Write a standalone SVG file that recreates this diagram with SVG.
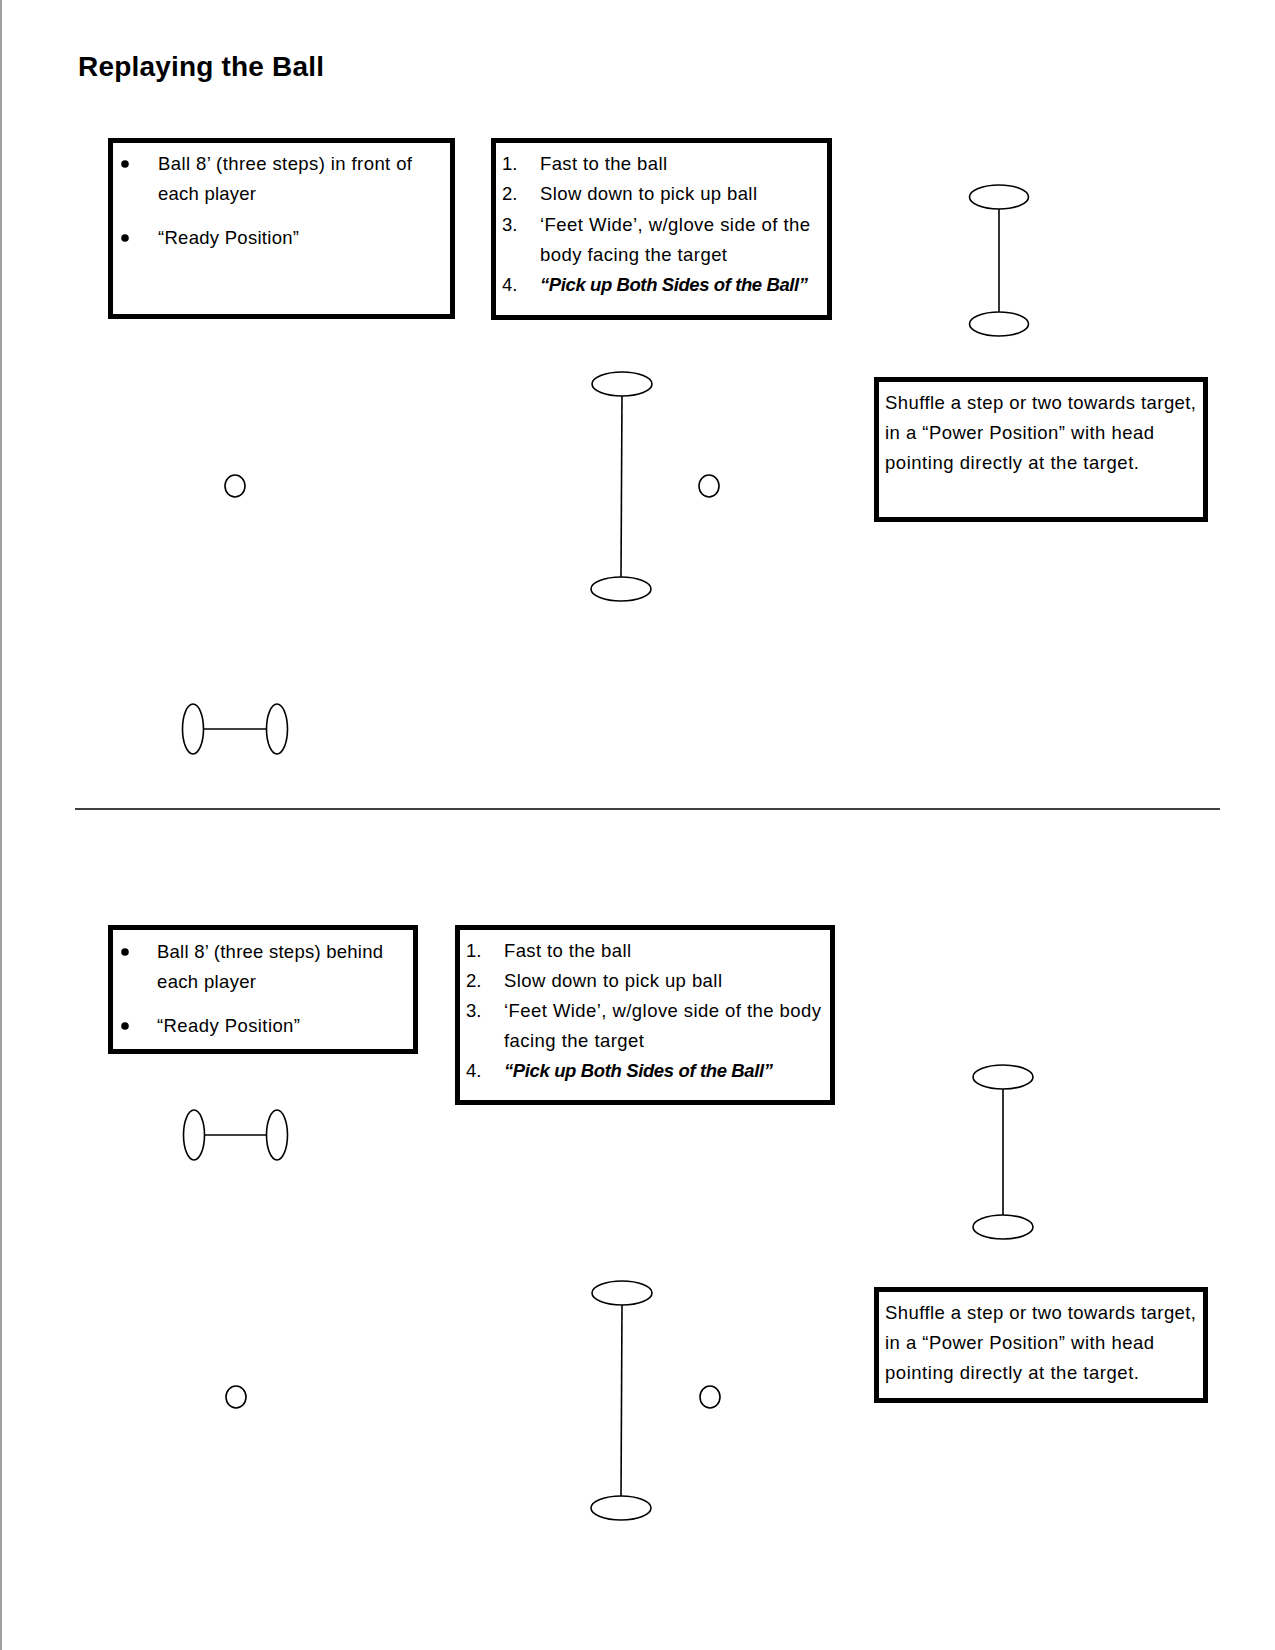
<svg xmlns="http://www.w3.org/2000/svg" width="1275" height="1650" viewBox="0 0 1275 1650">
<style>
  .box{fill:#fff;stroke:#000;stroke-width:5}
  .t{font-family:"Liberation Sans",Arial,sans-serif;font-size:18.5px;fill:#000}
  .bi{font-weight:bold;font-style:italic}
  .title{font-family:"Liberation Sans",Arial,sans-serif;font-size:28px;font-weight:bold;fill:#000}
  .sh{fill:#fff;stroke:#000;stroke-width:1.6}
  .ln{stroke:#000;stroke-width:1.6;fill:none}
</style>
<rect x="0" y="0" width="1275" height="1650" fill="#fff"/>
<line x1="1" y1="0" x2="1" y2="1650" stroke="#a0a0a0" stroke-width="2"/>
<text class="title" x="78" y="76" textLength="246">Replaying the Ball</text>
<line x1="75" y1="809" x2="1220" y2="809" stroke="#000" stroke-width="1.5"/>

<g id="connectors">
  <line class="ln" x1="999" y1="209" x2="999" y2="312"/>
  <line class="ln" x1="622" y1="396" x2="621" y2="577"/>
  <line class="ln" x1="203.5" y1="729" x2="266.5" y2="729"/>
  <line class="ln" x1="1003" y1="1089" x2="1003" y2="1215"/>
  <line class="ln" x1="204.5" y1="1135" x2="266.5" y2="1135"/>
  <line class="ln" x1="622" y1="1305" x2="621" y2="1496"/>
</g>

<g id="box-top-left">
  <rect class="box" x="110.5" y="140.5" width="342" height="176"/>
  <circle cx="125" cy="164" r="3.8"/>
  <circle cx="125" cy="238" r="3.8"/>
  <text class="t" x="158" y="170" textLength="254">Ball 8’ (three steps) in front of</text>
  <text class="t" x="158" y="200" textLength="98">each player</text>
  <text class="t" x="158" y="244" textLength="141">“Ready Position”</text>
</g>

<g id="box-top-steps">
  <rect class="box" x="493.5" y="140.5" width="336" height="177"/>
  <text class="t" x="502" y="170">1.</text>
  <text class="t" x="540" y="170" textLength="127">Fast to the ball</text>
  <text class="t" x="502" y="200">2.</text>
  <text class="t" x="540" y="200" textLength="217">Slow down to pick up ball</text>
  <text class="t" x="502" y="231">3.</text>
  <text class="t" x="540" y="231" textLength="270">‘Feet Wide’, w/glove side of the</text>
  <text class="t" x="540" y="261" textLength="187">body facing the target</text>
  <text class="t" x="502" y="291">4.</text>
  <text class="t bi" x="540" y="291" textLength="268">“Pick up Both Sides of the Ball”</text>
</g>

<g id="dumbbell-top-right">
  <ellipse class="sh" cx="999" cy="197" rx="29.5" ry="12"/>
  <ellipse class="sh" cx="999" cy="324" rx="29.5" ry="12"/>
</g>

<g id="box-top-shuffle">
  <rect class="box" x="876.5" y="379.5" width="329" height="140"/>
  <text class="t" x="885" y="409" textLength="311">Shuffle a step or two towards target,</text>
  <text class="t" x="885" y="439" textLength="269">in a “Power Position” with head</text>
  <text class="t" x="885" y="469" textLength="254">pointing directly at the target.</text>
</g>

<g id="player-top-left">
  <ellipse class="sh" cx="235" cy="486" rx="10" ry="11"/>
</g>
<g id="dumbbell-top-middle">
  <ellipse class="sh" cx="622" cy="384" rx="30" ry="12"/>
  <ellipse class="sh" cx="621" cy="589" rx="30" ry="12"/>
</g>
<g id="player-top-right">
  <ellipse class="sh" cx="709" cy="486" rx="10" ry="11"/>
</g>
<g id="dumbbell-top-horizontal">
  <ellipse class="sh" cx="193" cy="729" rx="10.5" ry="25"/>
  <ellipse class="sh" cx="277" cy="729" rx="10.5" ry="25"/>
</g>

<g id="box-bottom-left">
  <rect class="box" x="110.5" y="927.5" width="305" height="124"/>
  <circle cx="125" cy="952" r="3.8"/>
  <circle cx="125" cy="1026" r="3.8"/>
  <text class="t" x="157" y="958" textLength="226">Ball 8’ (three steps) behind</text>
  <text class="t" x="157" y="988" textLength="99">each player</text>
  <text class="t" x="157" y="1032" textLength="143">“Ready Position”</text>
</g>

<g id="box-bottom-steps">
  <rect class="box" x="457.5" y="927.5" width="375" height="175"/>
  <text class="t" x="466" y="957">1.</text>
  <text class="t" x="504" y="957" textLength="127">Fast to the ball</text>
  <text class="t" x="466" y="987">2.</text>
  <text class="t" x="504" y="987" textLength="218">Slow down to pick up ball</text>
  <text class="t" x="466" y="1017">3.</text>
  <text class="t" x="504" y="1017" textLength="317">‘Feet Wide’, w/glove side of the body</text>
  <text class="t" x="504" y="1047" textLength="140">facing the target</text>
  <text class="t" x="466" y="1077">4.</text>
  <text class="t bi" x="504" y="1077" textLength="269">“Pick up Both Sides of the Ball”</text>
</g>

<g id="dumbbell-bottom-horizontal">
  <ellipse class="sh" cx="194" cy="1135" rx="10.5" ry="25"/>
  <ellipse class="sh" cx="277" cy="1135" rx="10.5" ry="25"/>
</g>

<g id="dumbbell-bottom-right">
  <ellipse class="sh" cx="1003" cy="1077" rx="30" ry="12"/>
  <ellipse class="sh" cx="1003" cy="1227" rx="30" ry="12"/>
</g>

<g id="box-bottom-shuffle">
  <rect class="box" x="876.5" y="1289.5" width="329" height="111"/>
  <text class="t" x="885" y="1319" textLength="311">Shuffle a step or two towards target,</text>
  <text class="t" x="885" y="1349" textLength="269">in a “Power Position” with head</text>
  <text class="t" x="885" y="1379" textLength="254">pointing directly at the target.</text>
</g>

<g id="player-bottom-left">
  <ellipse class="sh" cx="236" cy="1397" rx="10" ry="11"/>
</g>
<g id="dumbbell-bottom-middle">
  <ellipse class="sh" cx="622" cy="1293" rx="30" ry="12"/>
  <ellipse class="sh" cx="621" cy="1508" rx="30" ry="12"/>
</g>
<g id="player-bottom-right">
  <ellipse class="sh" cx="710" cy="1397" rx="10" ry="11"/>
</g>
</svg>
